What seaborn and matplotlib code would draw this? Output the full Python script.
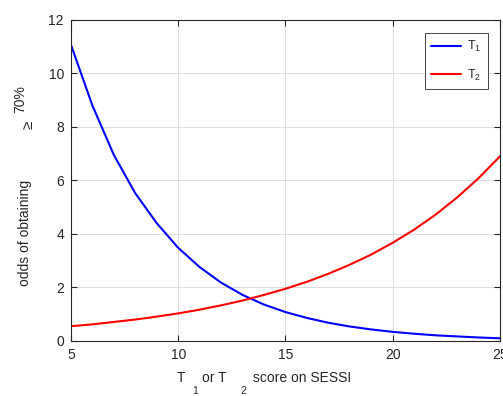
import matplotlib
matplotlib.use("Agg")
import matplotlib.pyplot as plt
import seaborn as sns
import pandas as pd

# scores on SESSI (x) and odds
scores = list(range(5, 26))
odds_t1 = [11.07, 8.80, 6.95, 5.52, 4.40, 3.48, 2.76, 2.18, 1.72, 1.36, 1.08,
           0.86, 0.68, 0.54, 0.43, 0.34, 0.27, 0.21, 0.17, 0.13, 0.10]
odds_t2 = [0.55, 0.62, 0.71, 0.80, 0.91, 1.03, 1.17, 1.33, 1.51, 1.72, 1.95,
           2.21, 2.51, 2.85, 3.23, 3.67, 4.16, 4.72, 5.36, 6.08, 6.90]
series_names = ["T$_1$", "T$_2$"]
x_ticks = [5, 10, 15, 20, 25]
y_ticks = [0, 2, 4, 6, 8, 10, 12]

sns.set_theme(style="whitegrid")
plt.rcParams['font.family'] = ['Liberation Sans', 'DejaVu Sans']
plt.rcParams['mathtext.fontset'] = 'custom'
plt.rcParams['mathtext.rm'] = 'Liberation Sans'
plt.rcParams['mathtext.it'] = 'Liberation Sans'

df = pd.DataFrame({
    "score": scores * 2,
    "odds": odds_t1 + odds_t2,
    "serie": [series_names[0]] * len(scores) + [series_names[1]] * len(scores),
})

fig = plt.figure(figsize=(5.03, 3.96), dpi=100)
ax = fig.add_axes([0.141, 0.139, 0.853, 0.811])
sns.lineplot(data=df, x="score", y="odds", hue="serie",
             palette={series_names[0]: "#0000FF", series_names[1]: "#FF0000"},
             linewidth=1.5, ax=ax)

ax.set_xlim(5, 25)
ax.set_ylim(0, 12)
ax.set_xticks(x_ticks)
ax.set_yticks(y_ticks)
ax.set_facecolor("white")
ax.grid(True, color="#dcdcdc", linewidth=0.7)
for s in ax.spines.values():
    s.set_color("#262626")
    s.set_linewidth(0.8)
ax.tick_params(direction="in", length=4, width=0.8, color="#262626",
               labelsize=10, labelcolor="#262626",
               top=True, right=True, bottom=True, left=True, pad=5)

ax.set_xlabel("")
ax.set_ylabel("")
txt = dict(color="#262626", ha="center", va="center")
# y label, pieces placed like the MATLAB tex rendering
fig.text(25 / 503, 1 - 233 / 396, "odds of obtaining", fontsize=10, rotation=90, **txt)
fig.text(29 / 503, 1 - 125 / 396, "\u2265", fontsize=11, rotation=90, **txt)
fig.text(20 / 503, 1 - 99 / 396, "70%", fontsize=10, rotation=90, **txt)

# x label with MATLAB style subscripts
txt = dict(color="#262626", ha="left", va="center")
fig.text(177 / 503, 1 - 378 / 396, "T", fontsize=10, **txt)
fig.text(192 / 503, 1 - 391 / 396, "1", fontsize=7.5, **txt)
fig.text(202 / 503, 1 - 378 / 396, "or T", fontsize=10, **txt)
fig.text(240 / 503, 1 - 391 / 396, "2", fontsize=7.5, **txt)
fig.text(253 / 503, 1 - 378 / 396, "score on SESSI", fontsize=10, **txt)

leg = ax.legend(title=None, loc="upper right", bbox_to_anchor=(0.972, 0.96),
                fontsize=9, handlelength=2.4, handletextpad=0.5, labelspacing=1.1,
                fancybox=False, framealpha=1, borderpad=0.5, borderaxespad=0)
leg.get_frame().set_edgecolor("#262626")
leg.get_frame().set_linewidth(0.6)

fig.savefig("out.png", dpi=100)
